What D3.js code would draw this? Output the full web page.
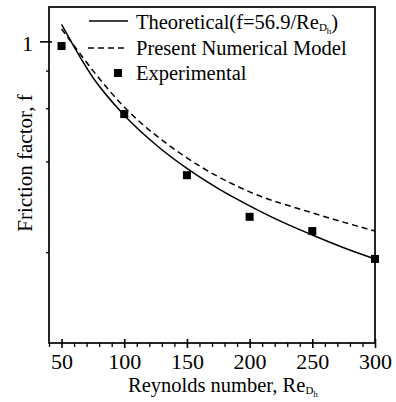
<!DOCTYPE html>
<html>
<head>
<meta charset="utf-8">
<script src="https://cdn.jsdelivr.net/npm/d3@7"></script>
<style>
  body { margin: 0; background: #fff; }
  svg text { font-family: "Liberation Serif", "Times New Roman", serif; fill: #000; }
</style>
</head>
<body>
<svg id="chart"></svg>
<script>
// Chart size
const width = 396;
const height = 402;

// Data
const reTheory = [50, 75, 100, 125, 150, 175, 200, 225, 250, 275, 300];
const fTheory = [1.138, 0.759, 0.569, 0.455, 0.379, 0.325, 0.285, 0.253, 0.228, 0.207, 0.190];

const reNumerical = [50, 100, 150, 200, 250, 300];
const fNumerical = [1.10, 0.606, 0.411, 0.317, 0.270, 0.235];

const reExperimental = [50, 100, 150, 200, 250, 300];
const fExperimental = [0.965, 0.574, 0.360, 0.262, 0.235, 0.190];

const xMajorTicks = [50, 100, 150, 200, 250, 300];
const xMinorTicks = d3.range(40, 301, 10).filter(d => d % 50 !== 0);
const yMajorTicks = [1];
const yMinorTicks = [0.2, 0.4, 0.6, 0.8];

// Plot area
const margin = { top: 7, right: 21, bottom: 59, left: 49 };
const innerW = width - margin.left - margin.right;
const innerH = height - margin.top - margin.bottom;

const svg = d3.select("#chart")
  .attr("width", width)
  .attr("height", height);

const g = svg.append("g")
  .attr("transform", `translate(${margin.left},${margin.top})`);

// Scales
const x = d3.scaleLinear().domain([40, 300]).range([0, innerW]);
const y = d3.scaleLog().domain([0.1, 1.3]).range([innerH, 0]);

// Minor x ticks (outward)
g.append("g")
  .attr("transform", `translate(0,${innerH})`)
  .call(d3.axisBottom(x).tickValues(xMinorTicks).tickSize(4).tickFormat(""))
  .call(a => a.select(".domain").remove())
  .call(a => a.selectAll("line").attr("stroke-width", 1.3));

// Major x ticks (crossing the axis) and labels
g.append("g")
  .attr("transform", `translate(0,${innerH})`)
  .call(d3.axisBottom(x).tickValues(xMajorTicks).tickSize(5).tickPadding(4).tickFormat(d3.format("d")))
  .call(a => a.select(".domain").remove())
  .call(a => a.selectAll("line").attr("y1", -4).attr("stroke-width", 1.6))
  .call(a => a.selectAll("text").attr("font-size", 22).attr("dy", "0.75em"));

// Minor y ticks
g.append("g")
  .call(d3.axisLeft(y).tickValues(yMinorTicks).tickSize(3).tickFormat(""))
  .call(a => a.select(".domain").remove())
  .call(a => a.selectAll("line").attr("stroke-width", 1.3));

// Major y tick with label
g.append("g")
  .call(d3.axisLeft(y).tickValues(yMajorTicks).tickSize(9).tickPadding(7).tickFormat(d3.format("d")))
  .call(a => a.select(".domain").remove())
  .call(a => a.selectAll("line").attr("x1", 3).attr("stroke-width", 1.6))
  .call(a => a.selectAll("text").attr("font-size", 22).attr("dy", "0.42em"));

// Frame
g.append("rect")
  .attr("width", innerW)
  .attr("height", innerH)
  .attr("fill", "none")
  .attr("stroke", "#000")
  .attr("stroke-width", 1.7);

// Lines
const line = d3.line()
  .x(d => x(d[0]))
  .y(d => y(d[1]))
  .curve(d3.curveMonotoneX);

g.append("path")
  .datum(d3.zip(reTheory, fTheory))
  .attr("d", line)
  .attr("fill", "none")
  .attr("stroke", "#000")
  .attr("stroke-width", 1.5);

g.append("path")
  .datum(d3.zip(reNumerical, fNumerical))
  .attr("d", line)
  .attr("fill", "none")
  .attr("stroke", "#000")
  .attr("stroke-width", 1.5)
  .attr("stroke-dasharray", "6,4");

// Experimental points
const sq = 8;
g.selectAll(".exp")
  .data(d3.zip(reExperimental, fExperimental))
  .enter()
  .append("rect")
  .attr("class", "exp")
  .attr("x", d => x(d[0]) - sq / 2)
  .attr("y", d => y(d[1]) - sq / 2)
  .attr("width", sq)
  .attr("height", sq)
  .attr("fill", "#000");

// Legend
const legend = svg.append("g");
const lx1 = 89, lx2 = 128, tx = 136;

legend.append("line")
  .attr("x1", lx1).attr("x2", lx2).attr("y1", 21).attr("y2", 21)
  .attr("stroke", "#000").attr("stroke-width", 1.5);
const t1 = legend.append("text")
  .attr("x", tx).attr("y", 29).attr("font-size", 20.5);
t1.append("tspan").text("Theoretical(f=56.9/Re");
t1.append("tspan").attr("font-size", 11).attr("dy", 2).text("D");
t1.append("tspan").attr("font-size", 9).attr("dy", 3).text("h");
t1.append("tspan").attr("dy", -5).text(")");

legend.append("line")
  .attr("x1", lx1 - 1).attr("x2", lx2).attr("y1", 48).attr("y2", 48)
  .attr("stroke", "#000").attr("stroke-width", 1.5)
  .attr("stroke-dasharray", "6,4");
legend.append("text")
  .attr("x", tx).attr("y", 55).attr("font-size", 20.5)
  .text("Present Numerical Model");

legend.append("rect")
  .attr("x", 118 - sq / 2).attr("y", 73 - sq / 2)
  .attr("width", sq).attr("height", sq)
  .attr("fill", "#000");
legend.append("text")
  .attr("x", tx).attr("y", 80).attr("font-size", 20.5)
  .text("Experimental");

// Axis titles
const xt = svg.append("text")
  .attr("x", 128).attr("y", 392).attr("font-size", 20.5);
xt.append("tspan").text("Reynolds number, Re");
xt.append("tspan").attr("font-size", 11).attr("dy", 2).text("D");
xt.append("tspan").attr("font-size", 9).attr("dy", 3).text("h");

svg.append("text")
  .attr("transform", "translate(32,163) rotate(-90)")
  .attr("text-anchor", "middle")
  .attr("font-size", 21)
  .text("Friction factor, f");
</script>
</body>
</html>
